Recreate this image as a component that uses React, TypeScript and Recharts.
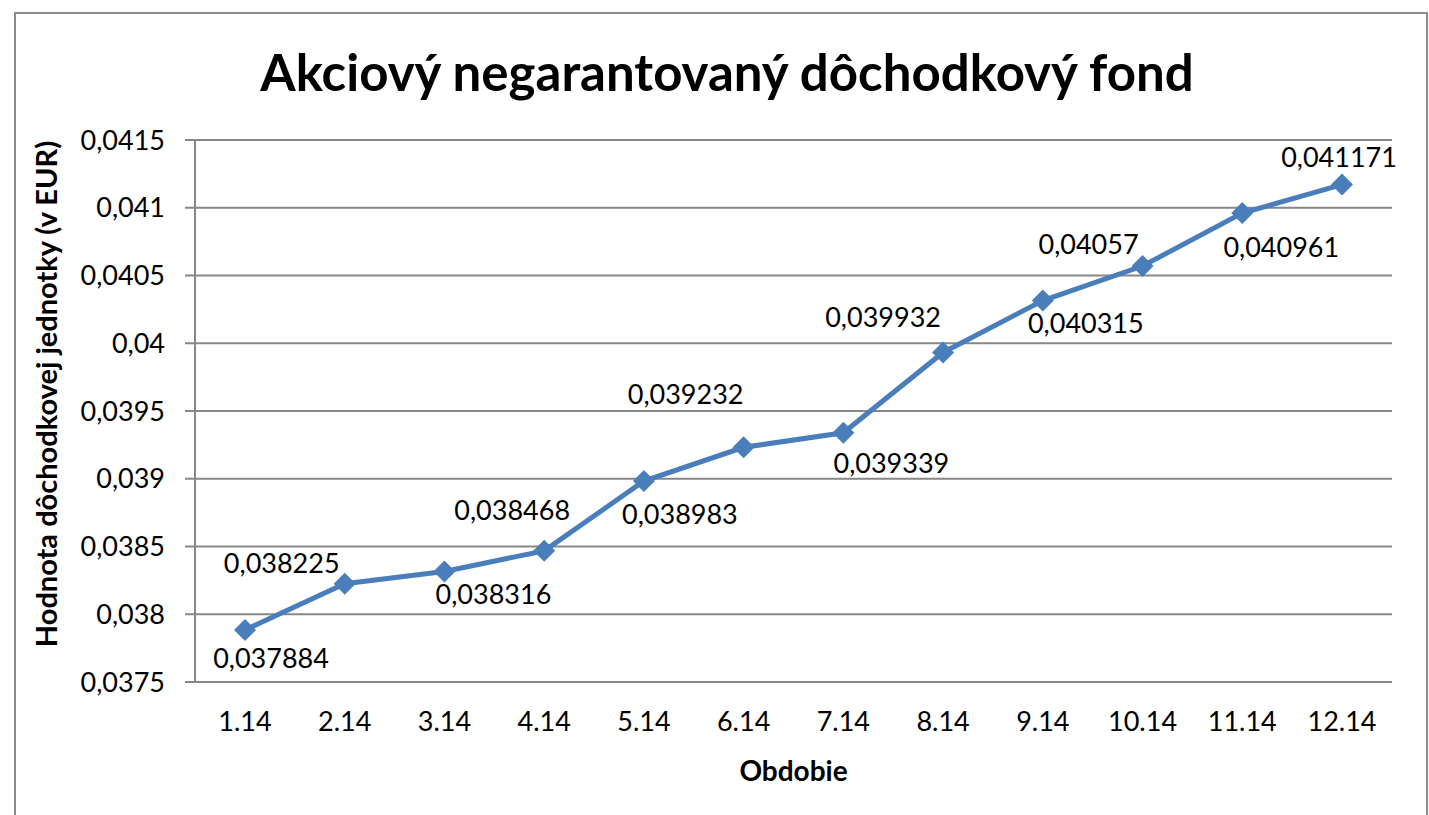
import React from 'react';
import { LineChart, Line, CartesianGrid, XAxis, YAxis, LabelList } from 'recharts';

const periods = ['1.14', '2.14', '3.14', '4.14', '5.14', '6.14', '7.14', '8.14', '9.14', '10.14', '11.14', '12.14'];
const unitValues = [0.037884, 0.038225, 0.038316, 0.038468, 0.038983, 0.039232, 0.039339, 0.039932, 0.040315, 0.04057, 0.040961, 0.041171];
const yTicks = [0.0375, 0.038, 0.0385, 0.039, 0.0395, 0.04, 0.0405, 0.041, 0.0415];

// label placement nudges (px), Excel put them alternately above/below
const labelDx = [26, -63, 49, -32, 36, -58, 48, -60, 43, -54, 39, -3];
const labelDy = [28, -21, 22, -41, 32, -54, 30, -36, 22, -23, 33, -28];

const data = periods.map((p, i) => ({ period: p, value: unitValues[i] }));

const FONT = 'Lato, "Open Sans", sans-serif';
const BLUE = '#4a7ebb';
const GRID = '#878787';

const fmt = (v: number) => String(v).replace('.', ',');

const Diamond = (props: any) => {
    const { cx, cy } = props;
    if (cx == null || cy == null) return null;
    const r = 11;
    return <path d={`M${cx},${cy - r} L${cx + r},${cy} L${cx},${cy + r} L${cx - r},${cy} Z`} fill={BLUE} />;
};

const ValueLabel = (props: any) => {
    const { x, y, index, value } = props;
    return (
        <text
            x={x + labelDx[index]}
            y={y + labelDy[index]}
            textAnchor="middle"
            dominantBaseline="central"
            fontFamily={FONT}
            fontSize={27}
            fill="#000"
        >
            {fmt(value)}
        </text>
    );
};

const YTitle = (props: any) => {
    const { viewBox } = props;
    const cy = 394;
    return (
        <text
            x={45}
            y={cy}
            transform={`rotate(-90, 45, ${cy})`}
            textAnchor="middle"
            dominantBaseline="central"
            fontFamily={FONT}
            fontSize={29}
            fontWeight={700}
            fill="#000"
        >
            Hodnota dôchodkovej jednotky (v EUR)
        </text>
    );
};

const XTitle = (props: any) => {
    const { viewBox } = props;
    return (
        <text
            x={viewBox.x + viewBox.width / 2}
            y={770}
            textAnchor="middle"
            dominantBaseline="central"
            fontFamily={FONT}
            fontSize={28}
            fontWeight={700}
            fill="#000"
        >
            Obdobie
        </text>
    );
};

export default function App() {
    return (
        <div style={{ position: 'absolute', left: 0, top: 0, width: 1429, height: 815, background: '#fff', fontFamily: FONT }}>
            <div style={{ position: 'absolute', left: 14, top: 12, width: 1410, height: 810, borderLeft: '2px solid #8c8c8c', borderTop: '2px solid #8c8c8c', borderRight: '2px solid #8c8c8c' }} />
            <div style={{ position: 'absolute', left: 0, top: 40, width: 1454, textAlign: 'center', fontSize: 51, fontWeight: 700, color: '#000', lineHeight: '64px' }}>
                Akciový negarantovaný dôchodkový fond
            </div>
            <LineChart
                width={1429}
                height={815}
                data={data}
                margin={{ top: 140, right: 37, left: 0, bottom: 0 }}
                style={{ position: 'absolute', left: 0, top: 0 }}
            >
                <CartesianGrid vertical={false} stroke={GRID} strokeWidth={2} />
                <XAxis
                    dataKey="period"
                    height={133}
                    padding={{ left: 50, right: 50 }}
                    stroke={GRID}
                    strokeWidth={2}
                    tickLine={false}
                    tickSize={0}
                    tickMargin={30}
                    tick={{ fill: '#000', fontSize: 27, fontFamily: FONT }}
                    label={<XTitle />}
                />
                <YAxis
                    width={195}
                    domain={[0.0375, 0.0415]}
                    ticks={yTicks}
                    tickFormatter={fmt}
                    stroke={GRID}
                    strokeWidth={2}
                    tickSize={10}
                    tickMargin={20}
                    tick={{ fill: '#000', fontSize: 27, fontFamily: FONT }}
                    label={<YTitle />}
                />
                <Line
                    type="linear"
                    dataKey="value"
                    stroke={BLUE}
                    strokeWidth={5}
                    dot={<Diamond />}
                    activeDot={false}
                    isAnimationActive={false}
                >
                    <LabelList dataKey="value" content={<ValueLabel />} />
                </Line>
            </LineChart>
        </div>
    );
}
